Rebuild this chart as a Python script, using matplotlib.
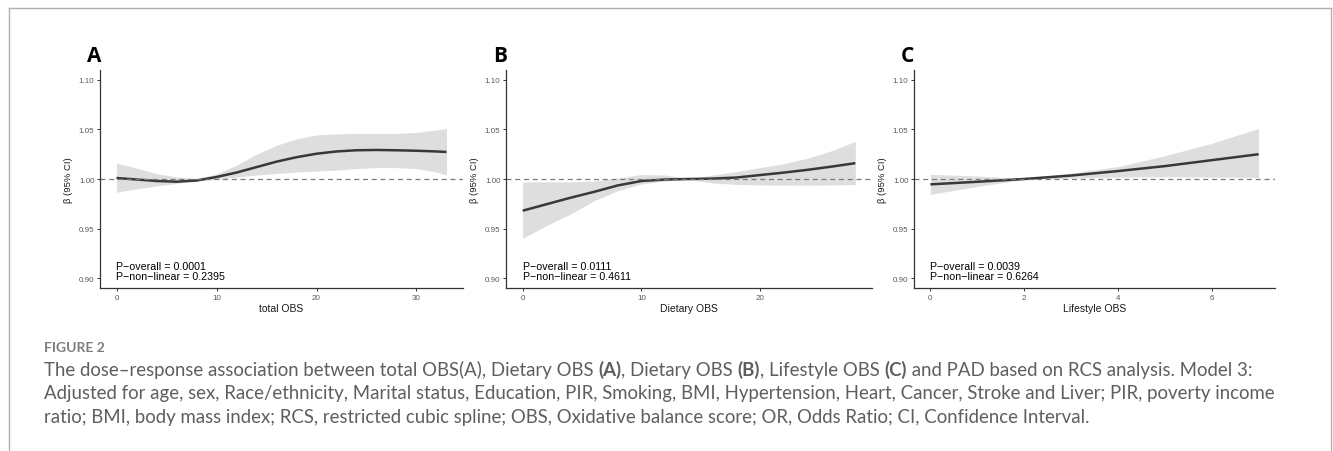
import matplotlib.pyplot as plt
from matplotlib.lines import Line2D

# RCS curves: estimate with lower / upper 95% CI
a_x = [0, 2, 4, 6, 8, 10, 12, 14, 16, 18, 20, 22, 24, 26, 28, 30, 32, 33]
a_y = [1.001, 0.9995, 0.998, 0.9973, 0.9985, 1.002, 1.0065, 1.012, 1.0175, 1.022,
       1.0255, 1.0278, 1.029, 1.0293, 1.029, 1.0285, 1.0278, 1.0273]
a_lo = [0.9867, 0.990, 0.993, 0.9955, 0.998, 0.9995, 1.002, 1.004, 1.0055, 1.007,
        1.008, 1.009, 1.0105, 1.0115, 1.0115, 1.0105, 1.007, 1.004]
a_hi = [1.016, 1.011, 1.0055, 1.002, 1.0005, 1.005, 1.014, 1.025, 1.034, 1.0405,
        1.0445, 1.0455, 1.046, 1.046, 1.046, 1.047, 1.0495, 1.051]

b_x = [0, 2, 4, 6, 8, 10, 12, 14, 16, 18, 20, 22, 24, 26, 28]
b_y = [0.968, 0.9745, 0.981, 0.987, 0.9935, 0.998, 0.9995, 1.0, 1.0004, 1.0015,
       1.004, 1.0065, 1.0093, 1.0125, 1.016]
b_lo = [0.94, 0.953, 0.9645, 0.978, 0.988, 0.995, 0.998, 0.9995, 0.996, 0.9945,
        0.994, 0.9938, 0.9937, 0.994, 0.9943]
b_hi = [0.997, 0.997, 0.997, 0.998, 1.001, 1.0045, 1.004, 1.0005, 1.004, 1.0075,
        1.0115, 1.0155, 1.021, 1.0285, 1.038]

c_x = [0, 1, 2, 3, 4, 5, 6, 7]
c_y = [0.9946, 0.9972, 1.0, 1.0035, 1.008, 1.013, 1.019, 1.025]
c_lo = [0.9845, 0.9925, 0.9995, 1.001, 1.002, 1.0022, 1.002, 1.0015]
c_hi = [1.0047, 1.003, 1.0005, 1.006, 1.0125, 1.0235, 1.036, 1.051]

panels = [
    ("A", "total OBS", a_x, a_y, a_lo, a_hi, [0, 10, 20, 30], "0.0001", "0.2395"),
    ("B", "Dietary OBS", b_x, b_y, b_lo, b_hi, [0, 10, 20], "0.0111", "0.4611"),
    ("C", "Lifestyle OBS", c_x, c_y, c_lo, c_hi, [0, 2, 4, 6], "0.0039", "0.6264"),
]
yticks = [0.90, 0.95, 1.00, 1.05, 1.10]

W, H = 1333, 452
fig = plt.figure(figsize=(W / 100, H / 100), dpi=100)
plt.rcParams["font.family"] = ["Liberation Sans", "DejaVu Sans"]

# axes boxes in pixels: left, right, top, bottom
boxes = [(100, 463, 71, 289), (506, 872, 71, 289), (914, 1275, 71, 289)]

for (lab, xlab, x, y, lo, hi, xt, p1, p2), (l, r, t, b) in zip(panels, boxes):
    ax = fig.add_axes([l / W, 1 - b / H, (r - l) / W, (b - t) / H])
    ax.fill_between(x, lo, hi, color="#dedede", lw=0)
    ax.plot(x, y, color="#383838", lw=1.8, solid_capstyle="butt")
    ax.axhline(1.0, color="#7a7a7a", lw=0.9, ls=(0, (4, 3)))
    pad = (x[-1] - x[0]) * 0.05
    ax.set_xlim(x[0] - pad, x[-1] + pad)
    ax.set_ylim(0.89, 1.11)
    ax.set_xticks(xt)
    ax.set_yticks(yticks)
    ax.set_yticklabels([f"{v:.2f}" for v in yticks])
    for s in ["top", "right"]:
        ax.spines[s].set_visible(False)
    for s in ["left", "bottom"]:
        ax.spines[s].set_color("#333333")
        ax.spines[s].set_linewidth(0.9)
    ax.tick_params(length=2.5, width=0.7, color="#333333", labelsize=5.8,
                   labelcolor="#5a5a5a", pad=1.5)
    ax.set_xlabel(xlab, fontsize=7.5, color="#1a1a1a", labelpad=2)
    ax.set_ylabel("β (95% CI)", fontsize=6.8, color="#1a1a1a", labelpad=4)
    ax.text(0, 0.9127, f"P\u2212overall = {p1}", fontsize=7.7, va="center", ha="left")
    ax.text(0, 0.9026, f"P\u2212non\u2212linear = {p2}", fontsize=7.7, va="center", ha="left")
    fig.text((l - 13) / W, 1 - 57 / H, lab, fontsize=15, fontweight="bold",
             family="Open Sans", ha="left", va="center")

# outer frame (open at the bottom)
fc = "#b0b0b0"
fig.add_artist(Line2D([9 / W, 9 / W], [0, 1 - 9 / H], color=fc, lw=1))
fig.add_artist(Line2D([1331 / W, 1331 / W], [0, 1 - 9 / H], color=fc, lw=1))
fig.add_artist(Line2D([9 / W, 1331 / W], [1 - 9 / H, 1 - 9 / H], color=fc, lw=1))

# caption
cap_font = "Lato"
cap_col = "#5e5e5e"
fig.text(44 / W, 1 - 348 / H, "FIGURE 2", fontsize=10, fontweight="bold",
         color="#7d7d7d", family=cap_font, va="center", ha="left")

lines = [
    [("The dose\u2013response association between total OBS(A), Dietary OBS ", False),
     ("(A)", True), (", Dietary OBS ", False), ("(B)", True), (", Lifestyle OBS ", False),
     ("(C)", True), (" and PAD based on RCS analysis. Model 3:", False)],
    [("Adjusted for age, sex, Race/ethnicity, Marital status, Education, PIR, Smoking, "
      "BMI, Hypertension, Heart, Cancer, Stroke and Liver; PIR, poverty income", False)],
    [("ratio; BMI, body mass index; RCS, restricted cubic spline; OBS, Oxidative "
      "balance score; OR, Odds Ratio; CI, Confidence Interval.", False)],
]
for i, segs in enumerate(lines):
    yc = 1 - (370 + 24 * i) / H
    last = None
    for txt, bold in segs:
        kw = dict(fontsize=13.45, color=cap_col, family=cap_font,
                  fontweight="bold" if bold else "normal")
        if last is None:
            last = fig.text(44 / W, yc, txt, va="center", ha="left", **kw)
        else:
            # next piece starts where the previous one ends
            last = plt.annotate(txt, xy=(1, 0), xycoords=last, va="bottom", ha="left",
                                annotation_clip=False, **kw)

fig.savefig("out.png", dpi=100)
